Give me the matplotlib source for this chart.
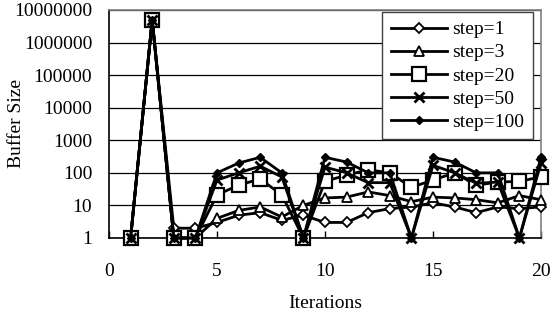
import matplotlib
matplotlib.use("Agg")
import matplotlib.pyplot as plt
from matplotlib.ticker import FixedLocator, NullLocator

iterations = list(range(1, 21))
step1 = [1, 5e6, 2, 2, 3, 5, 6, 3.5, 5, 3, 3, 6, 8, 9, 12, 9, 6, 9, 8, 9]
step3 = [1, 5e6, 1, 1, 4, 7, 9, 4.4, 10, 17, 18, 26, 20, 13, 18, 17, 15, 12, 20, 15]
step20 = [1, 5e6, 1, 1, 21, 42, 65, 21, 1, 55, 85, 125, 100, 36, 60, 100, 42, 52, 55, 75]
step50 = [1, 5e6, 1, 1, 60, 100, 160, 75, 1, 150, 100, 50, 50, 1, 170, 100, 48, 52, 1, 200]
step100 = [1, 5e6, 1, 1, 100, 200, 300, 100, 1, 300, 215, 100, 100, 1, 300, 215, 100, 100, 1, 300]

series_labels = ["step=1", "step=3", "step=20", "step=50", "step=100"]
ytick_values = [1, 10, 100, 1000, 10000, 100000, 1000000, 10000000]
ytick_labels = ["1", "10", "100", "1000", "10000", "100000", "1000000", "10000000"]
xtick_values = [0, 5, 10, 15, 20]

plt.rcParams['font.family'] = ['Liberation Serif', 'DejaVu Serif']

fig = plt.figure(figsize=(5.54, 3.23), dpi=100)
ax = fig.add_axes([109/554, 1-238/323, 432/554, 228/323])

styles = [
    dict(marker='D', markersize=5.5, markerfacecolor='white', markeredgewidth=1.3),
    dict(marker='^', markersize=6.5, markerfacecolor='white', markeredgewidth=1.3),
    dict(marker='s', markersize=10, markerfacecolor='white', markeredgewidth=1.6),
    dict(marker='x', markersize=7, markeredgewidth=2),
    dict(marker='D', markersize=4, markerfacecolor='black', markeredgewidth=1),
]
data = [step1, step3, step20, step50, step100]
for vals, lab, st in zip(data, series_labels, styles):
    ax.plot(iterations, vals, color='black', linewidth=2.0, markeredgecolor='black',
            label=lab, clip_on=False, zorder=3, **st)

ax.set_yscale('log')
ax.set_ylim(1, 1e7)
ax.set_xlim(0, 20)
ax.yaxis.set_major_locator(FixedLocator(ytick_values))
ax.yaxis.set_minor_locator(NullLocator())
ax.set_yticklabels(ytick_labels)
ax.set_xticks(xtick_values)
ax.set_xticklabels([str(v) for v in xtick_values])

ax.grid(axis='y', color='black', linewidth=0.9)
ax.set_axisbelow(True)
for s in ['top', 'right']:
    ax.spines[s].set_color('#808080')
    ax.spines[s].set_linewidth(1.2)
for s in ['left', 'bottom']:
    ax.spines[s].set_color('black')
    ax.spines[s].set_linewidth(1.2)

ax.tick_params(axis='x', direction='in', length=5, pad=18, labelsize=14, width=1)
ax.tick_params(axis='y', direction='out', length=0, pad=12, labelsize=14)
ax.set_xlabel('Iterations', fontsize=14, labelpad=11)
ax.set_ylabel('Buffer Size', fontsize=14)
ax.yaxis.set_label_coords(-0.195, 0.5)

leg = ax.legend(loc='upper left', bbox_to_anchor=(0.632, 0.991), fontsize=14,
                frameon=True, fancybox=False, framealpha=1, edgecolor='#404040',
                handlelength=2.9, handletextpad=0.25, labelspacing=0.28,
                borderpad=0.45, borderaxespad=0)
leg.get_frame().set_linewidth(1.0)
leg.set_zorder(5)

fig.savefig('out.png', dpi=100)
